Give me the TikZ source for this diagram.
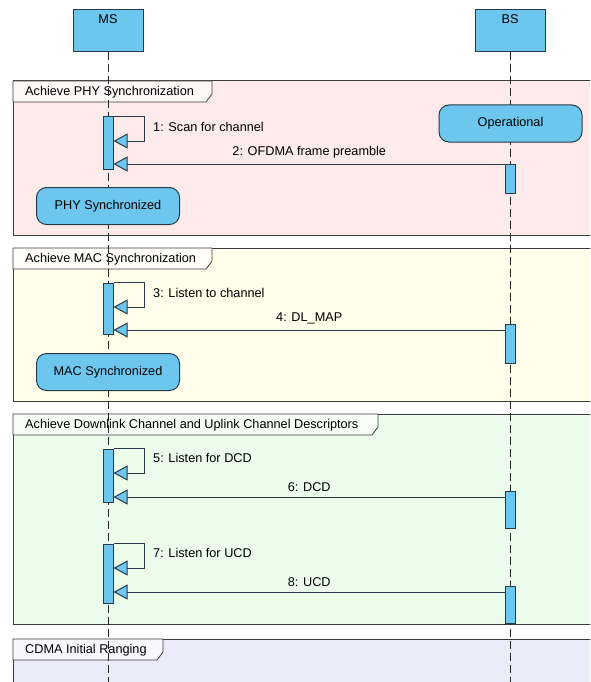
\documentclass[tikz,border=0pt]{standalone}
\usepackage{fontspec}
\setmainfont{Liberation Sans}
\usetikzlibrary{arrows.meta, positioning, calc}
\definecolor{SDBLUE}{HTML}{6DC6EE}
\definecolor{SDLINE}{HTML}{2B3A48}
\definecolor{SDFRAME}{HTML}{3C3C3C}
\definecolor{SDPINK}{HTML}{FDEBEB}
\definecolor{SDYELLOW}{HTML}{FEFEEA}
\definecolor{SDGREEN}{HTML}{EBFCEB}
\definecolor{SDLAVENDER}{HTML}{EBEBFA}

\begin{document}
\begin{tikzpicture}[x=1pt, y=-1pt,
    font=\fontsize{12.7}{14}\selectfont,
    actor/.style={rectangle, draw=SDLINE, fill=SDBLUE, line width=1pt,
                  minimum width=70pt, minimum height=42pt, inner sep=0pt},
    act/.style={rectangle, draw=SDLINE, fill=SDBLUE, line width=1pt,
                minimum width=10pt, inner sep=0pt},
    state/.style={rectangle, rounded corners=10pt, draw=SDLINE, fill=SDBLUE,
                  line width=1pt, minimum width=143pt, minimum height=37pt},
    frame/.style={draw=SDFRAME, line width=1pt},
    tab/.style={draw=SDFRAME, line width=0.8pt},
    life/.style={black!85, line width=1pt, dash pattern=on 8pt off 4pt},
    msg/.style={-{Triangle[length=14pt, width=15pt, fill=SDBLUE]}, SDLINE, line width=1pt},
    lbl/.style={inner sep=1pt, anchor=west, text=black},
    mlbl/.style={above=4pt, inner sep=1pt, text=black}
  ]
  \clip (0,0) rectangle (590,682);
  \fill[white] (0,0) rectangle (590,682);

  % combined fragments
  \path[frame, fill=SDPINK] (13,81) rectangle (600,235);
  \path[tab, fill=SDPINK!40!white] (13,81) -- (212,81) -- (212,94) -- (206,102) -- (13,102) -- cycle;
  \node[anchor=west, inner sep=0pt] (phyfrag) at (25,92) {Achieve PHY Synchronization};

  \path[frame, fill=SDYELLOW] (13,248) rectangle (600,401);
  \path[tab, fill=SDYELLOW!40!white] (13,248) -- (212,248) -- (212,261) -- (206,269) -- (13,269) -- cycle;
  \node[anchor=west, inner sep=0pt] (macfrag) at (25,259) {Achieve MAC Synchronization};

  \path[frame, fill=SDGREEN] (13,414) rectangle (600,624);
  \path[tab, fill=SDGREEN!40!white] (13,414) -- (378,414) -- (378,427) -- (372,435) -- (13,435) -- cycle;
  \node[anchor=west, inner sep=0pt] (dcdfrag) at (25,425) {Achieve Downlink Channel and Uplink Channel Descriptors};

  \path[frame, fill=SDLAVENDER] (13,639) rectangle (600,700);
  \path[tab, fill=SDLAVENDER!40!white] (13,639) -- (163,639) -- (163,652) -- (157,660) -- (13,660) -- cycle;
  \node[anchor=west, inner sep=0pt] (cdmafrag) at (25,650) {CDMA Initial Ranging};

  % lifelines
  \node[actor] (ms) at (108,31) {};
  \node[actor] (bs) at (510,31) {};
  \node (mstext) at ($(ms.north)+(0,10)$) {MS};
  \node (bstext) at ($(bs.north)+(0,10)$) {BS};
  \coordinate (msend) at (108,690);
  \coordinate (bsend) at (510,690);
  \draw[life] (ms.south) -- (ms |- msend);
  \draw[life] (bs.south) -- (bs |- bsend);

  % states
  \node[state] (operational) at (510.5,123.5) {Operational};
  \node[state] (physync) at (108,206) {PHY Synchronized};
  \node[state] (macsync) at (108,372) {MAC Synchronized};

  % activations
  \node[act, minimum height=52pt] (a1) at (108,143) {};
  \node[act, minimum height=29pt] (b1) at (510.5,178.5) {};
  \node[act, minimum height=51pt] (a2) at (108,308.5) {};
  \node[act, minimum height=39pt] (b2) at (510.5,343.5) {};
  \node[act, minimum height=53pt] (a3) at (108,475.5) {};
  \node[act, minimum height=37pt] (b3) at (510.5,509.5) {};
  \node[act, minimum height=59pt] (a4) at (108,573.5) {};
  \node[act, minimum height=37pt] (b4) at (510.5,604.5) {};

  % messages
  \coordinate (loop1) at (0,141);
  \coordinate (m2) at (0,164);
  \draw[msg] (a1.north east) -- ++(31,0) |- (a1.east |- loop1);
  \node[lbl] (l1) at (152,127) {1: Scan for channel};
  \draw[msg] (b1.west |- m2) -- node[mlbl] (l2) {2: OFDMA frame preamble} (a1.east |- m2);

  \coordinate (loop3) at (0,307);
  \coordinate (m4) at (0,330);
  \draw[msg] (a2.north east) -- ++(31,0) |- (a2.east |- loop3);
  \node[lbl] (l3) at (152,293) {3: Listen to channel};
  \draw[msg] (b2.west |- m4) -- node[mlbl] (l4) {4: DL\_MAP} (a2.east |- m4);

  \coordinate (loop5) at (0,473);
  \coordinate (m6) at (0,497);
  \draw[msg] (a3.north east) -- ++(31,0) |- (a3.east |- loop5);
  \node[lbl] (l5) at (152,458) {5: Listen for DCD};
  \draw[msg] (b3.west |- m6) -- node[mlbl] (l6) {6: DCD} (a3.east |- m6);

  \coordinate (loop7) at (0,568);
  \coordinate (m8) at (0,592);
  \draw[msg] (a4.north east) -- ++(31,0) |- (a4.east |- loop7);
  \node[lbl] (l7) at (152,553) {7: Listen for UCD};
  \draw[msg] (b4.west |- m8) -- node[mlbl] (l8) {8: UCD} (a4.east |- m8);
\end{tikzpicture}
\end{document}
